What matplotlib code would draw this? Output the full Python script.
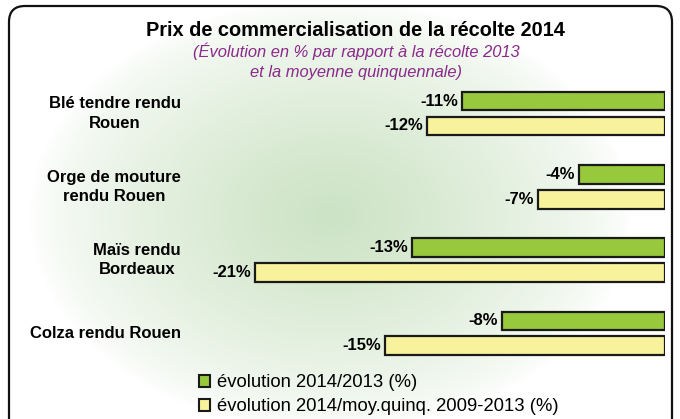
import matplotlib
matplotlib.use("Agg")
import matplotlib.pyplot as plt
import numpy as np
from matplotlib.patches import FancyBboxPatch, Patch
from matplotlib.transforms import blended_transform_factory

plt.rcParams['font.family'] = ['Liberation Sans', 'DejaVu Sans']

# data (bar lengths, labels show rounded values)
categories = ["Blé tendre rendu\nRouen", "Orge de mouture\nrendu Rouen",
              "Maïs rendu\nBordeaux", "Colza rendu Rouen"]
evol_2013 = [-10.55, -4.44, -13.16, -8.46]
evol_quinq = [-12.38, -6.58, -21.36, -14.57]
series_names = ["évolution 2014/2013 (%)",
                "évolution 2014/moy.quinq. 2009-2013 (%)"]

W, H = 680, 419
fig = plt.figure(figsize=(W / 100, H / 100), dpi=100)

# background gradient
bg = fig.add_axes([0, 0, 1, 1])
bg.set_axis_off()
yy, xx = np.mgrid[0:H, 0:W]
r = np.sqrt(((xx - 330) / 300.0) ** 2 + ((yy - 215) / 215.0) ** 2)
t = np.clip(1 - r, 0, 1) ** 0.7
green = np.array([0.80, 0.89, 0.77])
img = 1 - t[..., None] * (1 - green)
mask = (xx < 9) | (xx > 672) | (yy < 6)
img[mask] = 1
bg.imshow(img, extent=[0, W, H, 0], aspect='auto')
bg.set_xlim(0, W)
bg.set_ylim(H, 0)
bg.add_patch(FancyBboxPatch((9, 6), 663, 440, boxstyle="round,pad=0,rounding_size=16",
                            fill=False, edgecolor='#111111', linewidth=1.6))

# main axes: x 0 at px 664.5, 19.15 px per %
px_per = 19.15
x0 = 664.5
xmin = -23
left_px = x0 + xmin * px_per
top_px, bot_px = 80, 365
ax = fig.add_axes([left_px / W, 1 - bot_px / H, (x0 - left_px) / W, (bot_px - top_px) / H])
ax.patch.set_alpha(0)
ax.set_axis_off()
ax.set_xlim(xmin, 0)
unit = 73.3
ax.set_ylim(3 + (bot_px - 333.3) / unit, -(113.5 - top_px) / unit)

y = np.arange(len(categories))
off, h = 0.17, 0.255
ax.barh(y - off, evol_2013, height=h, color='#98c83c', edgecolor='#1a1a1a', linewidth=1.6)
ax.barh(y + off, evol_quinq, height=h, color='#f8f29c', edgecolor='#1a1a1a', linewidth=1.6)

for i in range(len(categories)):
    ax.text(evol_2013[i] - 0.22, y[i] - off, f"{evol_2013[i]:.0f}%", ha='right', va='center',
            fontsize=12, fontweight='bold')
    ax.text(evol_quinq[i] - 0.22, y[i] + off, f"{evol_quinq[i]:.0f}%", ha='right', va='center',
            fontsize=12, fontweight='bold')

tr = blended_transform_factory(fig.transFigure, ax.transData)
for i, c in enumerate(categories):
    ax.text(181 / W, y[i], c, transform=tr, ha='right', va='center', multialignment='center',
            fontsize=12, fontweight='bold', linespacing=1.35)

fig.text(355 / W, 1 - 30 / H, "Prix de commercialisation de la récolte 2014",
         ha='center', va='center', fontsize=14.4, fontweight='bold')
fig.text(356 / W, 1 - 51 / H, "(Évolution en % par rapport à la récolte 2013",
         ha='center', va='center', fontsize=11.9, style='italic', color='#8a2a8a')
fig.text(356 / W, 1 - 72 / H, "et la moyenne quinquennale)",
         ha='center', va='center', fontsize=11.9, style='italic', color='#8a2a8a')

handles = [Patch(facecolor='#98c83c', edgecolor='#1a1a1a', linewidth=1.5),
           Patch(facecolor='#f8f29c', edgecolor='#1a1a1a', linewidth=1.5)]
fig.legend(handles, series_names, loc='upper left', bbox_to_anchor=(190 / W, 1 - 365 / H),
           frameon=False, fontsize=13.3, handlelength=0.6, handleheight=0.6,
           handletextpad=0.38, labelspacing=0.39, borderpad=0)

fig.savefig("out.png", dpi=100)
